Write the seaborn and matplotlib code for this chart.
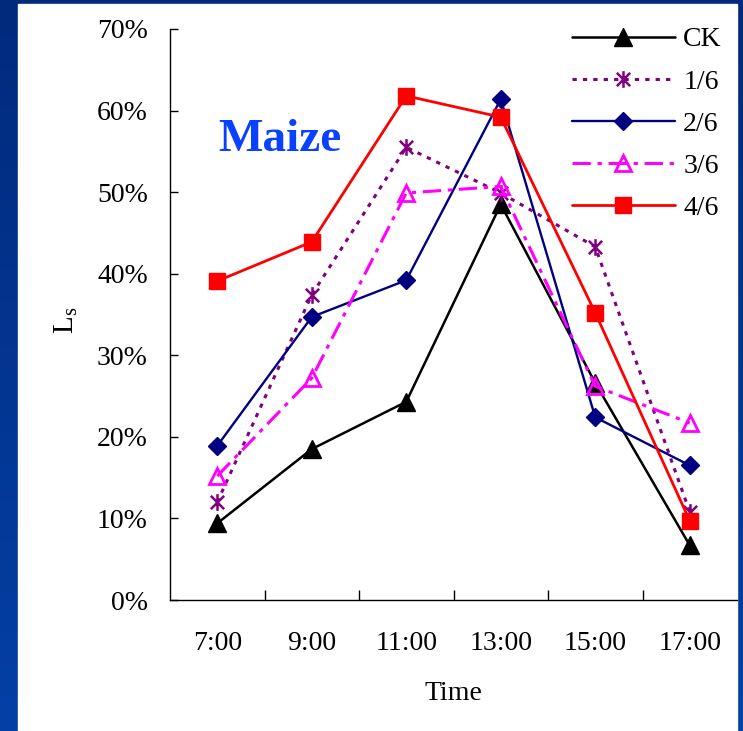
import numpy as np
import matplotlib
matplotlib.use("Agg")
import matplotlib.pyplot as plt
from matplotlib.colors import LinearSegmentedColormap
from matplotlib.patches import Rectangle
from matplotlib.path import Path
from matplotlib.ticker import FixedLocator, NullFormatter, FuncFormatter
import seaborn as sns

# 数据（单位：%）
times = ["7:00", "9:00", "11:00", "13:00", "15:00", "17:00"]
ck = [9.4, 18.5, 24.3, 48.5, 26.6, 6.7]
r16 = [12.0, 37.4, 55.5, 49.9, 43.3, 10.8]
r26 = [18.9, 34.7, 39.2, 61.4, 22.4, 16.5]
r36 = [15.2, 27.2, 49.9, 50.7, 26.2, 21.7]
r46 = [39.1, 43.9, 61.8, 59.2, 35.2, 9.7]
labels = ["CK", "1/6", "2/6", "3/6", "4/6"]
yticks = [0, 10, 20, 30, 40, 50, 60, 70]

sns.set_style("white")
plt.rcParams['font.family'] = ['Liberation Serif', 'DejaVu Serif']
plt.rcParams['mathtext.fontset'] = 'custom'
plt.rcParams['mathtext.rm'] = 'Liberation Serif'

W, H = 743, 731
fig = plt.figure(figsize=(W / 100, H / 100), dpi=100)

# 蓝色背景 + 白色面板
bg = fig.add_axes([0, 0, 1, 1], zorder=-10)
grad = np.linspace(0, 1, 256).reshape(-1, 1)
bg_cmap = LinearSegmentedColormap.from_list('bg', ['#012a7c', '#0440a6'])
bg.imshow(grad, aspect='auto', cmap=bg_cmap, extent=[0, 1, 0, 1], origin='upper')
bg.add_patch(Rectangle((18 / W, 0), (737 - 18) / W, (H - 4) / H, color='white'))
bg.set_xlim(0, 1)
bg.set_ylim(0, 1)
bg.axis('off')

ax = fig.add_axes([170 / W, 131 / H, (737 - 170) / W, 571 / H])
ax.set_facecolor('none')

# 星号标记（竖线 + X）
star = Path([(0, -1), (0, 1), (-0.8, -0.8), (0.8, 0.8), (-0.8, 0.8), (0.8, -0.8)],
            [Path.MOVETO, Path.LINETO] * 3)

x = np.arange(len(times))
styles = [
    dict(color='black', linestyle='-', linewidth=1.8, marker='^', markersize=12.5,
         markerfacecolor='black', markeredgecolor='black', markeredgewidth=1),
    dict(color='#800080', linestyle=(0, (1.4, 2.0)), linewidth=2.2, marker=star, markersize=12,
         markerfacecolor='none', markeredgecolor='#800080', markeredgewidth=1.8),
    dict(color='#000080', linestyle='-', linewidth=1.7, marker='D', markersize=9.5,
         markerfacecolor='#000080', markeredgecolor='#000080', markeredgewidth=1),
    dict(color='#ff00ff', linestyle=(0, (6, 2.2, 1.4, 2.2)), linewidth=2.2, marker='^', markersize=12,
         markerfacecolor='none', markeredgecolor='#ff00ff', markeredgewidth=2),
    dict(color='#ff0000', linestyle='-', linewidth=2.0, marker='s', markersize=11,
         markerfacecolor='#ff0000', markeredgecolor='#ff0000', markeredgewidth=1),
]
for vals, lab, st in zip([ck, r16, r26, r36, r46], labels, styles):
    sns.lineplot(x=x, y=vals, ax=ax, label=lab, **st)

ax.set_xlim(-0.5, len(times) - 0.5)
ax.set_ylim(0, 70)

# 坐标轴
for s in ['top', 'right']:
    ax.spines[s].set_visible(False)
for s in ['left', 'bottom']:
    ax.spines[s].set_color('black')
    ax.spines[s].set_linewidth(1.0)

ax.xaxis.set_major_locator(FixedLocator(x[:-1] + 0.5))
ax.xaxis.set_major_formatter(NullFormatter())
ax.set_xticks(x, minor=True)
ax.set_xticklabels(times, minor=True)
ax.tick_params(axis='x', which='major', bottom=True, direction='in', length=7, width=1, color='black')
ax.tick_params(axis='x', which='minor', bottom=True, length=0, pad=22, labelsize=20, labelcolor='black')

ax.set_yticks(yticks)
ax.yaxis.set_major_formatter(FuncFormatter(lambda v, p: f"{v:.0f}%"))
ax.tick_params(axis='y', left=True, direction='in', length=6, width=1, color='black',
               pad=16, labelsize=20, labelcolor='black')

ax.set_xlabel("Time", fontsize=20, color='black', labelpad=18)
ax.set_ylabel(r"L$_\mathregular{s}$", fontsize=21, color='black')
ax.yaxis.set_label_coords(-0.158, 0.49)

leg = ax.legend(loc='upper left', bbox_to_anchor=(572 / W, 1 - 27 / H),
                bbox_transform=fig.transFigure, frameon=False, borderpad=0,
                borderaxespad=0, handlelength=3.7, handletextpad=0.3,
                labelspacing=0.6, fontsize=20)
for t in leg.get_texts():
    t.set_color('black')

fig.text(280 / W, 1 - 140 / H, "Maize", ha='center', va='center', fontsize=34,
         fontweight='bold', color='#0a40ff', family=['Liberation Serif', 'DejaVu Serif'])

fig.savefig("out.png", dpi=100)
